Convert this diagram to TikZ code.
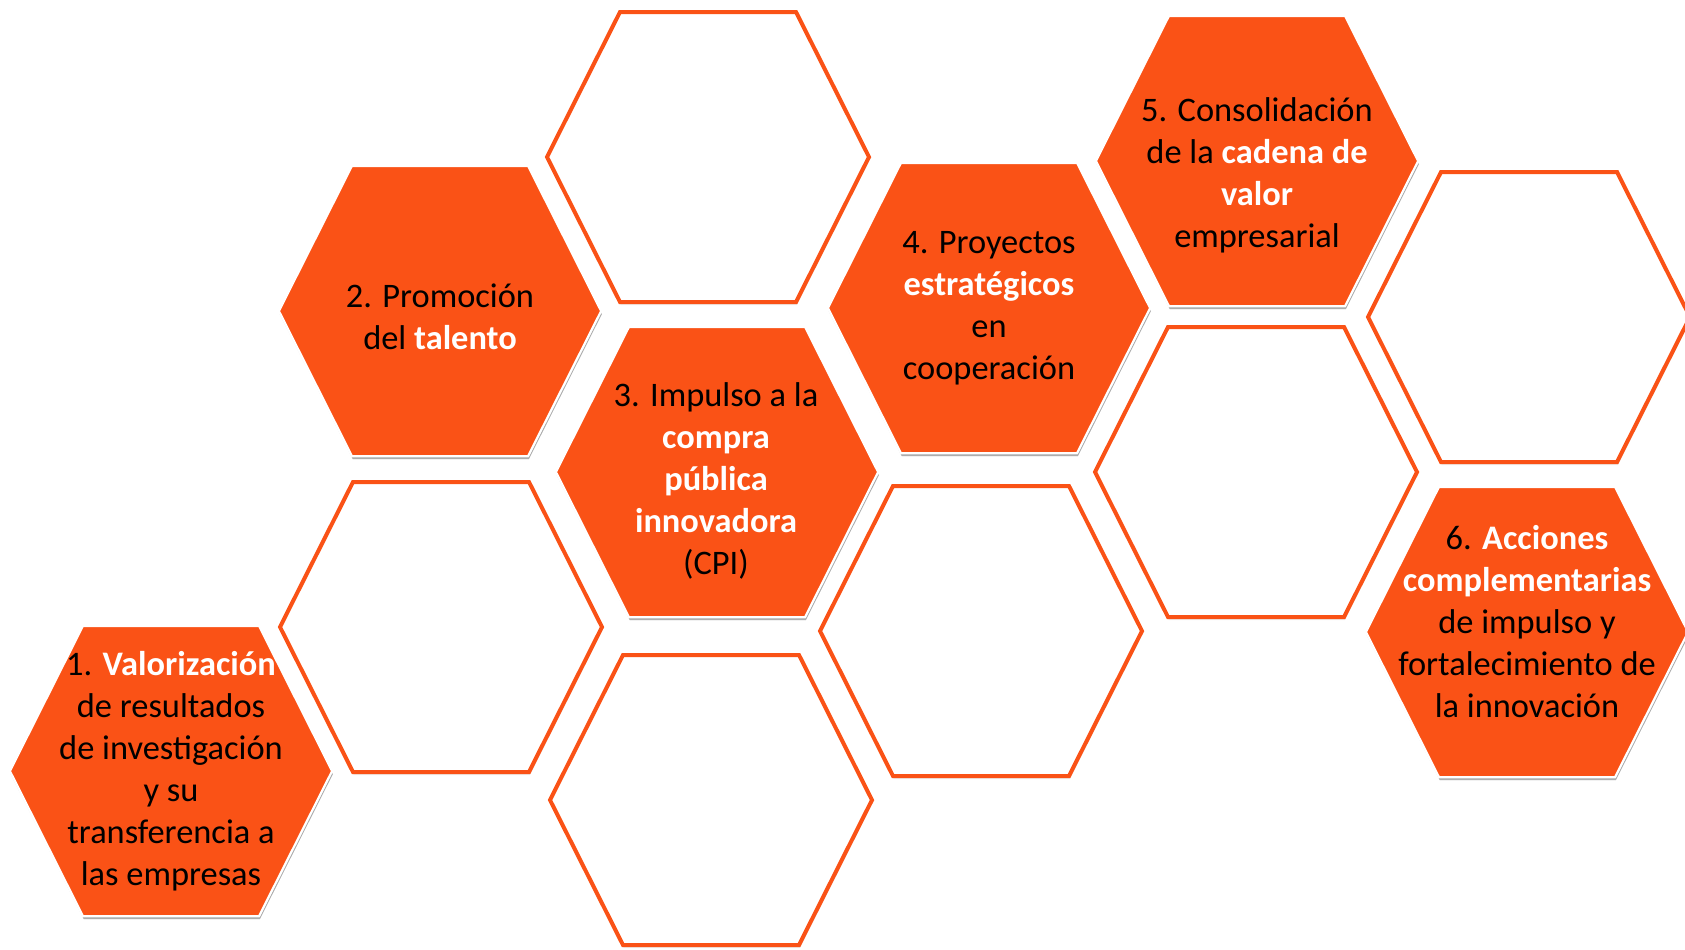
\documentclass[tikz,border=0pt]{standalone}
\usepackage{fontspec}
\setmainfont{Carlito}
\usetikzlibrary{shadows}
\definecolor{naranja}{RGB}{250,82,22}
\newcommand{\resalta}[1]{\textbf{\textcolor{white}{#1}}}
\newcommand{\hexagono}[3]{\path[#1,shift={(#2,#3)}] (-161,0) -- (-88,-145) -- (88,-145) -- (161,0) -- (88,145) -- (-88,145) -- cycle;}
\begin{document}
\begin{tikzpicture}[x=0.5pt,y=-0.5pt,
    sombra/.style={drop shadow={shadow xshift=0.4pt,shadow yshift=-1.6pt,fill=black!60,opacity=0.12}},
    hexllena/.style={fill=naranja,draw=white,line width=1pt,sombra},
    hexvacia/.style={fill=white,draw=naranja,line width=2pt,sombra},
    texto/.style={align=center,font=\fontsize{17.2}{21}\selectfont}]
    \useasboundingbox (0,0) rectangle (1685,949);
    \clip (0,0) rectangle (1685,949);
    % casillas vacias
    \foreach \cx/\cy in {708/157, 441/627, 711/800, 981/631, 1256/472, 1529/317}
        \hexagono{hexvacia}{\cx}{\cy}
    % casillas con texto
    \hexagono{hexllena}{171}{771}
    \hexagono{hexllena}{440}{311}
    \hexagono{hexllena}{717}{472}
    \hexagono{hexllena}{989}{308}
    \hexagono{hexllena}{1257}{161}
    \hexagono{hexllena}{1527}{632}
    \node [texto] (valor) at (171,771) {1. \resalta{Valorización}\\de resultados\\de investigación\\y su\\transferencia a\\las empresas};
    \node [texto] (talento) at (440,317) {2. Promoción\\del \resalta{talento}};
    \node [texto] (cpi) at (716,481) {3. Impulso a la\\\resalta{compra}\\\resalta{pública}\\\resalta{innovadora}\\(CPI)};
    \node [texto] (proyectos) at (989,308) {4. Proyectos\\\resalta{estratégicos}\\en\\cooperación};
    \node [texto] (cadena) at (1257,175) {5. Consolidación\\de la \resalta{cadena de}\\\resalta{valor}\\empresarial};
    \node [texto] (acciones) at (1527,622) {6. \resalta{Acciones}\\\resalta{complementarias}\\de impulso y\\fortalecimiento de\\la innovación};
\end{tikzpicture}
\end{document}
